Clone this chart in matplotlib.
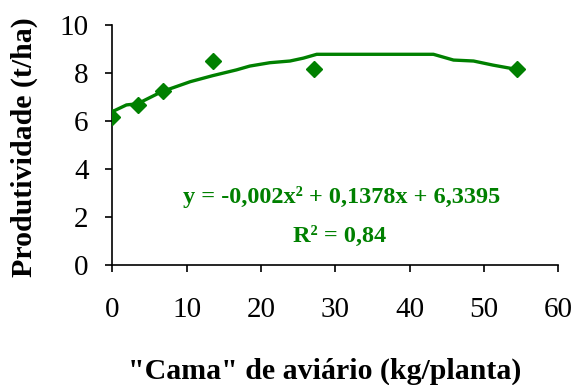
import matplotlib
matplotlib.use("Agg")
import matplotlib.pyplot as plt

# observed points
dose = [0, 3.4, 6.8, 13.6, 27.2, 54.4]
prod = [6.15, 6.65, 7.25, 8.5, 8.15, 8.15]

# trendline as drawn in the reference
trend_x = [0, 1.9, 3.4, 6.7, 8.2, 10.5, 13.5, 16.7, 18.5, 21.2, 23.9, 25.7, 27.5,
           43.2, 45.9, 48.6, 51.2, 54.4]
trend_y = [6.39, 6.67, 6.72, 7.23, 7.39, 7.64, 7.89, 8.13, 8.29, 8.43, 8.5, 8.62, 8.78,
           8.78, 8.54, 8.5, 8.33, 8.15]

green = "#008000"
plt.rcParams["font.family"] = ["Liberation Serif", "DejaVu Serif"]

fig = plt.figure(figsize=(5.75, 3.85), dpi=100)
ax = fig.add_axes([0.1953, 0.3117, 0.7757, 0.6233])

ax.plot(trend_x, trend_y, color=green, lw=2.4, zorder=2)
ax.plot(dose, prod, ls="none", marker="D", ms=8.5, color=green, zorder=3)

ax.set_xlim(0, 60)
ax.set_ylim(0, 10)
ax.set_xticks(range(0, 61, 10))
ax.set_yticks(range(0, 11, 2))
for s in ("top", "right"):
    ax.spines[s].set_visible(False)
for s in ("left", "bottom"):
    ax.spines[s].set_linewidth(1.2)
ax.tick_params(axis="both", direction="out", length=5, width=1.2, labelsize=21)
ax.tick_params(axis="x", pad=18)
ax.tick_params(axis="y", pad=12)

ax.text(0.515, 0.283, "y = -0,002x² + 0,1378x + 6,3395", transform=ax.transAxes,
        ha="center", va="center", color=green, fontsize=17.5, fontweight="bold")
ax.text(0.51, 0.117, "R² = 0,84", transform=ax.transAxes,
        ha="center", va="center", color=green, fontsize=17.5, fontweight="bold")

fig.text(0.043, 0.618, "Produtividade (t/ha)", rotation=90, ha="center", va="center",
         fontsize=21.5, fontweight="bold")
fig.text(0.565, 0.036, "\"Cama\" de aviário (kg/planta)", ha="center", va="center",
         fontsize=21.5, fontweight="bold")

fig.savefig("out.png", dpi=100)
